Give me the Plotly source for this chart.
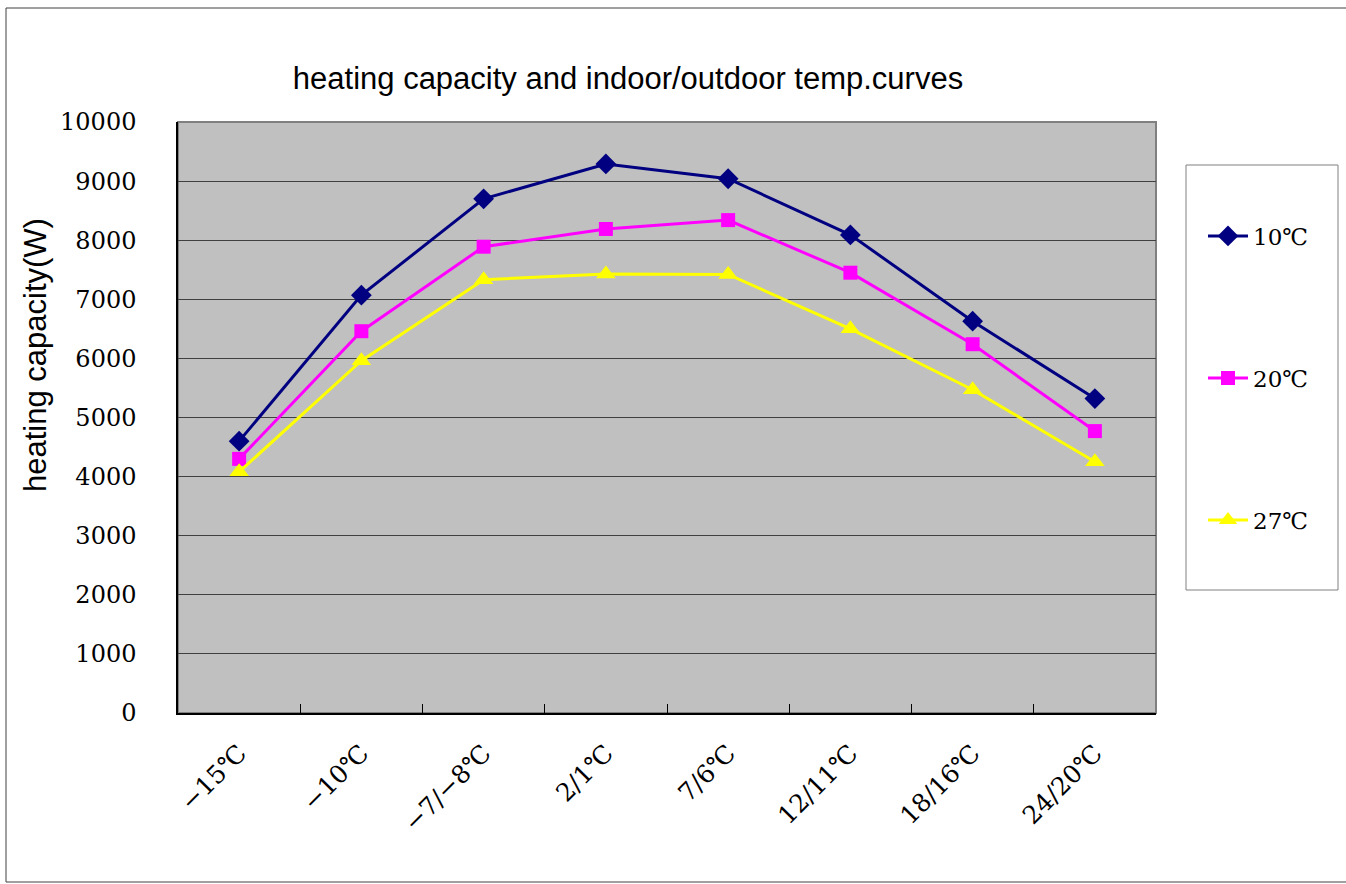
import plotly.graph_objects as go

# Outdoor temperature conditions (dry/wet bulb)
categories = ["−15℃", "−10℃", "−7/−8℃", "2/1℃", "7/6℃", "12/11℃", "18/16℃", "24/20℃"]

# Heating capacity (W) for each indoor temperature
cap_10c = [4600, 7070, 8700, 9290, 9040, 8090, 6630, 5320]
cap_20c = [4300, 6460, 7890, 8190, 8340, 7450, 6240, 4770]
cap_27c = [4080, 5960, 7330, 7430, 7420, 6500, 5470, 4250]

series_names = ["10℃", "20℃", "27℃"]
y_ticks = list(range(0, 10001, 1000))

SERIF = "DejaVu Serif, Liberation Serif, Noto Sans CJK SC, serif"
SANS = "Liberation Sans, Arial, sans-serif"

styles = [
    dict(color="#000080", symbol="diamond", size=16),
    dict(color="#FF00FF", symbol="square", size=14),
    dict(color="#FFFF00", symbol="triangle-up", size=17),
]

fig = go.Figure()
legends = ["legend", "legend2", "legend3"]
for name, vals, st, lg in zip(series_names, [cap_10c, cap_20c, cap_27c], styles, legends):
    fig.add_trace(go.Scatter(
        x=categories, y=vals, name=name, mode="lines+markers",
        line=dict(color=st["color"], width=3),
        marker=dict(symbol=st["symbol"], size=st["size"], color=st["color"],
                    line=dict(width=0)),
        legend=lg,
    ))

# plot area in pixels: x 178..1156, y 122..713
L, R, T, B = 178, 1156, 122, 713
W, H = 1346, 884
pw, ph = R - L, B - T

def px(x):
    return (x - L) / pw

def py(y):
    return (B - y) / ph

legend_common = dict(
    font=dict(family=SERIF, size=23, color="#000000"),
    bgcolor="rgba(0,0,0,0)", borderwidth=0,
    xanchor="left", yanchor="middle", itemwidth=40,
)

fig.update_layout(
    width=W, height=H,
    margin=dict(l=L, r=W - R, t=T, b=H - B),
    paper_bgcolor="#FFFFFF",
    plot_bgcolor="#C0C0C0",
    showlegend=True,
    title=dict(
        text="heating capacity and indoor/outdoor temp.curves",
        font=dict(family=SANS, size=31, color="#000000"),
        x=px(628), xref="paper", xanchor="center",
        y=1 - 78 / H, yref="container", yanchor="middle",
    ),
    legend=dict(**legend_common, x=px(1203), y=py(236)),
    legend2=dict(**legend_common, x=px(1203), y=py(378)),
    legend3=dict(**legend_common, x=px(1203), y=py(520)),
    xaxis=dict(
        type="category", tickson="boundaries",
        ticks="inside", ticklen=9, tickcolor="#000000",
        showline=True, linecolor="#000000", linewidth=1.5,
        showgrid=False, tickangle=-45,
        tickfont=dict(family=SERIF, size=25, color="#000000"),
        range=[-0.5, len(categories) - 0.5],
        ticklabelstandoff=14,
    ),
    yaxis=dict(
        range=[0, 10000], tickvals=y_ticks,
        ticktext=[str(v) for v in y_ticks],
        showgrid=True, gridcolor="#404040", gridwidth=1,
        showline=True, linecolor="#000000", linewidth=1.5,
        ticks="", zeroline=False,
        tickfont=dict(family=SERIF, size=24, color="#000000"),
        ticklabelstandoff=35,
    ),
    annotations=[dict(
        text="heating capacity(W)", textangle=-90,
        xref="paper", yref="paper", x=px(35), y=py(355),
        xanchor="center", yanchor="middle", showarrow=False,
        font=dict(family=SANS, size=31, color="#000000"),
    )],
    shapes=[
        # outer chart frame
        dict(type="rect", xref="paper", yref="paper",
             x0=px(6), x1=px(1352), y0=py(882), y1=py(8),
             line=dict(color="#404040", width=1), fillcolor="rgba(0,0,0,0)", layer="below"),
        # plot-area frame
        dict(type="rect", xref="paper", yref="paper",
             x0=0, x1=1, y0=0, y1=1,
             line=dict(color="#808080", width=2), fillcolor="rgba(0,0,0,0)", layer="below"),
        # legend frame
        dict(type="rect", xref="paper", yref="paper",
             x0=px(1186), x1=px(1338), y0=py(590), y1=py(165),
             line=dict(color="#808080", width=1), fillcolor="#FFFFFF", layer="below"),
    ],
)

fig.write_html("out.html")
